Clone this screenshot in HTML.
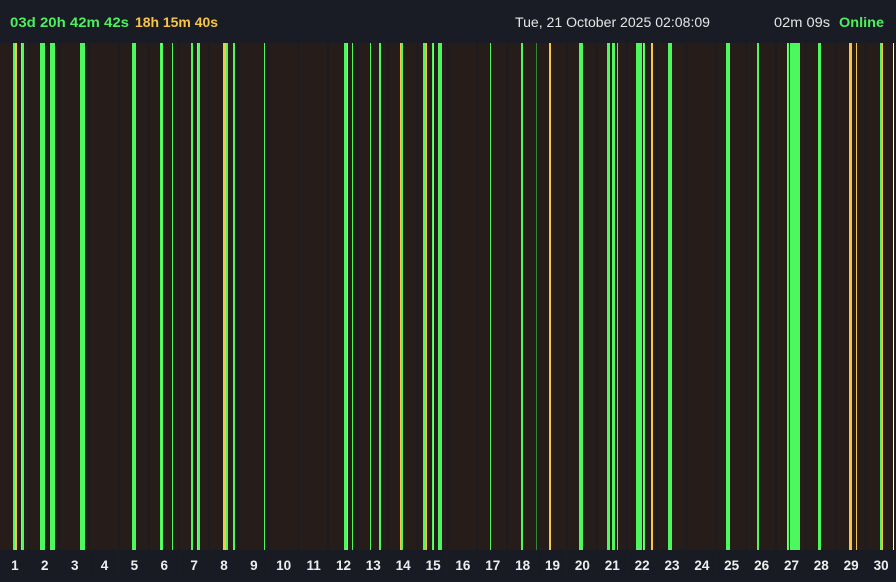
<!DOCTYPE html>
<html><head><meta charset="utf-8"><style>
html,body{margin:0;padding:0;background:#191c24;width:896px;height:582px;overflow:hidden}
svg{display:block}
text{font-family:"Liberation Sans",sans-serif}
</style></head><body>
<svg width="896" height="582" viewBox="0 0 896 582">
<rect x="0" y="0" width="896" height="582" fill="#191c24"/>
<text x="10" y="27" font-size="14" font-weight="bold" fill="#4cf05e" textLength="119" lengthAdjust="spacingAndGlyphs">03d 20h 42m 42s</text>
<text x="135" y="27" font-size="14" font-weight="bold" fill="#f7c548" textLength="83" lengthAdjust="spacingAndGlyphs">18h 15m 40s</text>
<text x="515" y="27" font-size="13.5" fill="#e6e6e6" textLength="195" lengthAdjust="spacingAndGlyphs">Tue, 21 October 2025 02:08:09</text>
<text x="774" y="27" font-size="13.5" fill="#e6e6e6" textLength="56" lengthAdjust="spacingAndGlyphs">02m 09s</text>
<text x="839" y="27" font-size="13.5" font-weight="bold" fill="#4cf05e" textLength="45" lengthAdjust="spacingAndGlyphs">Online</text>
<rect x="0" y="43" width="896" height="507" fill="#261d1b"/>
<rect x="0" y="550" width="896" height="30" fill="#181b23"/>
<g fill="#1b1c22" id="seps"></g>
<g id="bars"></g>
<g id="labels" font-size="13.5" font-weight="bold" fill="#eeeeee" text-anchor="middle"></g>
</svg>
<script>
var ns="http://www.w3.org/2000/svg",W=896/30;
var seps=document.getElementById('seps'),lab=document.getElementById('labels'),bars=document.getElementById('bars');
for(var i=0;i<30;i++){
 if(i>0){var r=document.createElementNS(ns,'rect');r.setAttribute('x',(i*W-1.5).toFixed(1));r.setAttribute('y',43);r.setAttribute('width',2);r.setAttribute('height',537);seps.appendChild(r);}
 var t=document.createElementNS(ns,'text');t.setAttribute('x',(i*W+W/2).toFixed(1));t.setAttribute('y',570);t.textContent=i+1;lab.appendChild(t);
}
var G='#4cf85e',Y='#f7c548',D='#2f8a35',Wh='#ffffff';
var B=[[13,2,G],[15,2,Y],[21,2,Y],[22,2,G],[40,5,G],[50,5,G],[80,5,G],[132,4,G],[160,1,G],[161,1,Y],[162,1,G],[172,1,G],[191,2,G],[197,1,Y],[198,2,G],[223,3,Y],[226,2,G],[233,2,G],[264,1,G],
[344,3,G],[347,1,Y],[352,1,G],[370,1,G],[379,2,G],[400,2,Y],[401,2,G],[423,3,G],[426,1,Y],[432,1,G],[433,1,Y],[438,4,G],[490,1,G],[521,2,G],[536,1,D],[549,2,Y],[579,4,G],
[607,3,G],[612,3,G],[617,1,G],[636,6,G],[643,1,Y],[644,1,G],[651,2,Y],[668,4,G],[726,4,G],[757,2,G],[787,1,Y],[788,1,G],[790,10,G],[818,3,G],[849,3,Y],[856,1,Y],[880,2,G],[882,1,Y],[893,1,Wh]];
B.forEach(function(b){var r=document.createElementNS(ns,'rect');r.setAttribute('x',b[0]);r.setAttribute('y',43);r.setAttribute('width',b[1]);r.setAttribute('height',507);r.setAttribute('fill',b[2]);bars.appendChild(r);});
</script>
</body></html>
